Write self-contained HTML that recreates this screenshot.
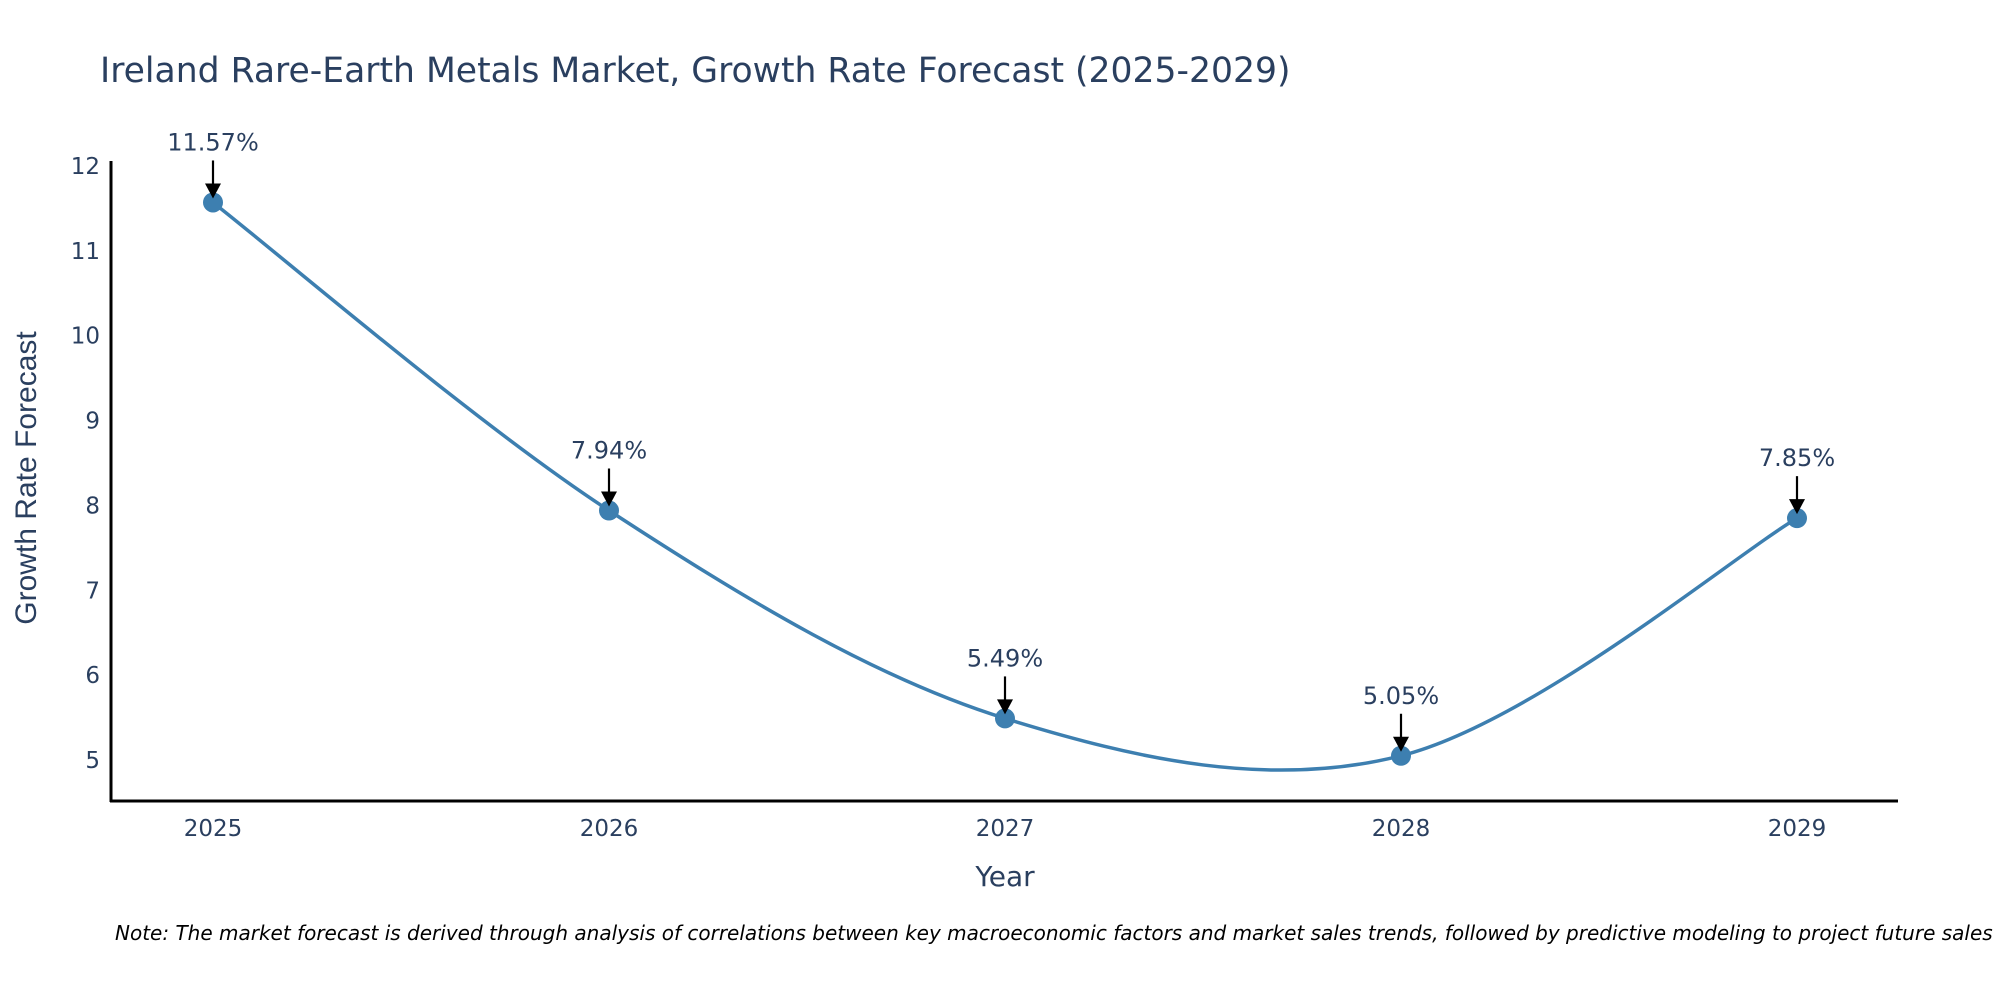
<!DOCTYPE html>
<html><head><meta charset="utf-8"><style>
body{margin:0;background:#fff;width:2000px;height:1000px;overflow:hidden}
text{font-family:"DejaVu Sans","Liberation Sans",sans-serif;fill:#2a3f5f}
</style></head><body>
<svg id="chart" width="2000" height="1000">
<text x="100" y="82" font-size="34.6">Ireland Rare-Earth Metals Market, Growth Rate Forecast (2025-2029)</text>
<g id="yticks"></g><g id="xticks"></g>
<line x1="111" y1="161" x2="111" y2="802" stroke="#000" stroke-width="3"/>
<line x1="110" y1="801" x2="1898" y2="801" stroke="#000" stroke-width="3"/>
<text x="0" y="0" font-size="30" text-anchor="middle" transform="translate(36,478) rotate(-90)" style="font-family:'Liberation Sans',sans-serif">Growth Rate Forecast</text>
<text x="1005" y="886" font-size="28" text-anchor="middle">Year</text>
<text x="115" y="940" font-size="20" font-style="italic" style="fill:#000">Note: The market forecast is derived through analysis of correlations between key macroeconomic factors and market sales trends, followed by predictive modeling to project future sales</text>
<path id="line" fill="none" stroke="#3d7fb0" stroke-width="3.5"/>
<g id="marks"></g>
</svg>
<script>
const years=["2025","2026","2027","2028","2029"];
const values=[11.57,7.94,5.49,5.05,7.85];
const labels=["11.57%","7.94%","5.49%","5.05%","7.85%"];
const yTicks=[5,6,7,8,9,10,11,12];
const NS="http://www.w3.org/2000/svg";
const xs=i=>213+i*396;
const ys=v=>760-(v-5)*84.86;
function mk(t,a,p){const e=document.createElementNS(NS,t);for(const k in a)e.setAttribute(k,a[k]);p.appendChild(e);return e;}
const yt=document.getElementById('yticks'),xt=document.getElementById('xticks'),mg=document.getElementById('marks');
yTicks.forEach(v=>{const t=mk('text',{x:100,y:ys(v)+8,'font-size':23,'text-anchor':'end'},yt);t.textContent=v;

});
years.forEach((y,i)=>{const t=mk('text',{x:xs(i),y:836,'font-size':23,'text-anchor':'middle'},xt);t.textContent=y;

});
const P=values.map((v,i)=>[xs(i),ys(v)]);
let d=`M${P[0][0]},${P[0][1]}`;const s=0.5;
for(let i=0;i<P.length-1;i++){const p0=P[Math.max(i-1,0)],p1=P[i],p2=P[i+1],p3=P[Math.min(i+2,P.length-1)];
d+=` C${p1[0]+(p2[0]-p0[0])*s/3},${p1[1]+(p2[1]-p0[1])*s/3} ${p2[0]-(p3[0]-p1[0])*s/3},${p2[1]-(p3[1]-p1[1])*s/3} ${p2[0]},${p2[1]}`;}
document.getElementById('line').setAttribute('d',d);
P.forEach((p,i)=>{const c=mk('circle',{cx:p[0],cy:p[1],r:10,fill:'#3d7fb0'},mg);


const l=mk('line',{x1:p[0],y1:p[1]-42,x2:p[0],y2:p[1]-14,stroke:'#000','stroke-width':2.2},mg);


const h=mk('polygon',{points:`${p[0]-8},${p[1]-19} ${p[0]+8},${p[1]-19} ${p[0]},${p[1]-4}`,fill:'#000'},mg);


const t=mk('text',{x:p[0],y:p[1]-52,'font-size':24,'text-anchor':'middle'},mg);t.textContent=labels[i];

});
</script>
</body></html>
